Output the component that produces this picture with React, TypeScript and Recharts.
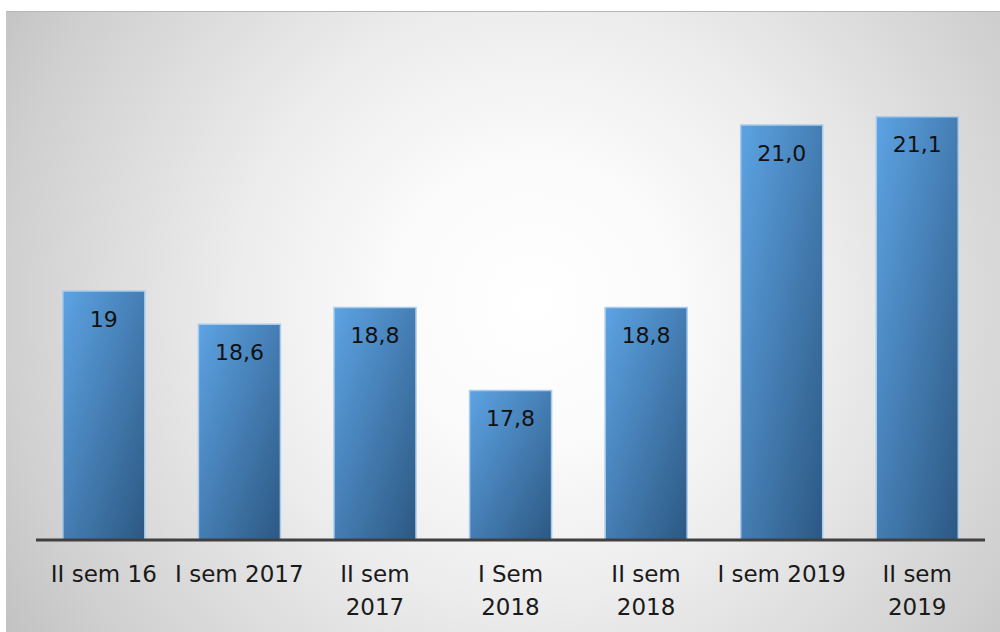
import { Bar, BarChart, LabelList, XAxis, YAxis } from "recharts";

// semesters, values, and labels as printed on the bars
const categories = [
  "II sem 16",
  "I sem 2017",
  "II sem\n2017",
  "I Sem\n2018",
  "II sem\n2018",
  "I sem 2019",
  "II sem\n2019",
];
const values = [19, 18.6, 18.8, 17.8, 18.8, 21.0, 21.1];
const valueLabels = ["19", "18,6", "18,8", "17,8", "18,8", "21,0", "21,1"];

const data = categories.map((name, i) => ({
  name,
  value: values[i],
  label: valueLabels[i],
}));

const FONT = "'DejaVu Sans', sans-serif";

const SemesterTick = ({
  x,
  y,
  payload,
}: {
  x?: number;
  y?: number;
  payload?: { value: string };
}) => {
  const lines = String(payload?.value ?? "").split("\n");
  return (
    <text
      x={x}
      y={(y ?? 0) + 42}
      textAnchor="middle"
      fontFamily={FONT}
      fontSize={23}
      fill="#1a1a1a"
    >
      {lines.map((line, i) => (
        <tspan key={i} x={x} dy={i === 0 ? 0 : 33}>
          {line}
        </tspan>
      ))}
    </text>
  );
};

export default function App() {
  return (
    <div
      style={{
        position: "absolute",
        left: 0,
        top: 0,
        width: 1000,
        height: 632,
        background: "#ffffff",
      }}
    >
      {/* gray radial backdrop of the chart area */}
      <div
        style={{
          position: "absolute",
          left: 6,
          top: 11,
          width: 994,
          height: 621,
          borderTop: "1px solid #b8b8b8",
          boxSizing: "border-box",
          background:
            "radial-gradient(circle farthest-corner at 53% 47%, #ffffff 0%, #fbfbfb 22%, #ededed 47%, #d0d0d0 85%, #c2c2c2 100%)",
        }}
      />
      <div style={{ position: "absolute", left: 0, top: 0 }}>
        <BarChart
          width={1000}
          height={632}
          data={data}
          margin={{ top: 42, right: 15, bottom: 0, left: 36 }}
          barCategoryGap="19.8%"
        >
          <defs>
            <linearGradient id="barFill" x1="0" y1="0" x2="1" y2="1">
              <stop offset="0%" stopColor="#5da3e4" />
              <stop offset="100%" stopColor="#2c5882" />
            </linearGradient>
          </defs>
          <YAxis hide domain={[16, 22]} />
          <XAxis
            dataKey="name"
            height={92}
            interval={0}
            tickLine={false}
            tickSize={0}
            tickMargin={0}
            axisLine={{ stroke: "#404040", strokeWidth: 3 }}
            tick={<SemesterTick />}
          />
          <Bar
            dataKey="value"
            fill="url(#barFill)"
            stroke="#a9cbec"
            strokeWidth={1.5}
            isAnimationActive={false}
          >
            <LabelList
              dataKey="label"
              position="insideTop"
              offset={20}
              fill="#111111"
              fontSize={22}
              fontFamily={FONT}
            />
          </Bar>
        </BarChart>
      </div>
    </div>
  );
}
